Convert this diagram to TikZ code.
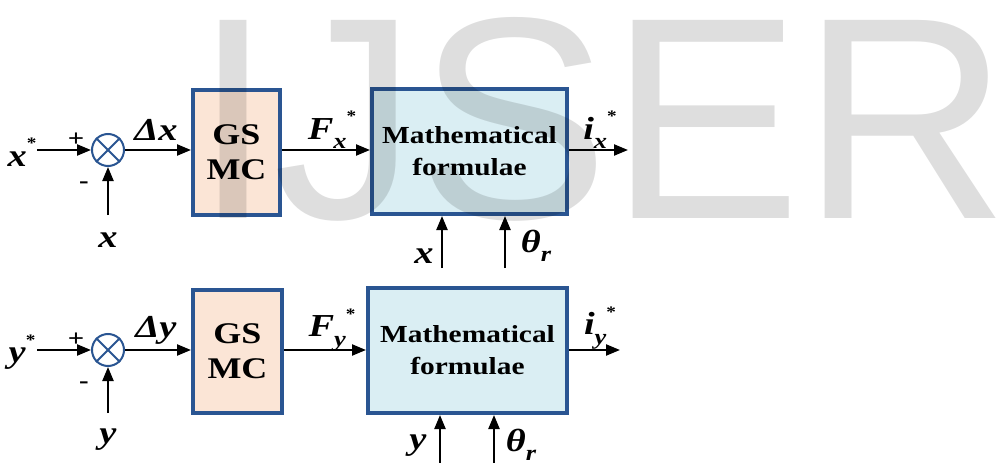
\documentclass[tikz,border=0pt]{standalone}
\usepackage{fontspec}
\setmainfont{Liberation Serif}[FakeStretch=1.2]
\newfontfamily\wmfont{Liberation Sans}
\usetikzlibrary{arrows.meta}
\definecolor{bord}{HTML}{2A5592}
\definecolor{peach}{HTML}{FBE5D6}
\definecolor{lblue}{HTML}{DAEEF3}
\newcommand\bi[1]{\textbf{\textit{#1}}}
\newcommand\sstar{\raisebox{0.55em}{\fontsize{16}{16}\selectfont\bfseries *}}
\newcommand\ssub[1]{\raisebox{-0.3em}{\fontsize{22}{22}\selectfont\bfseries\itshape #1}}
\begin{document}
\begin{tikzpicture}[x=1pt,y=-1pt,
  conn/.style={line width=2.2pt,-{Triangle[length=14pt,width=11pt]}},
  gsbox/.style={draw=bord,line width=4pt,fill=peach,minimum width=87pt,minimum height=125pt,
    align=center,font=\fontsize{30}{35}\selectfont\bfseries},
  mbox/.style={draw=bord,line width=4pt,fill=lblue,minimum width=195pt,minimum height=125pt,
    align=center,font=\fontsize{24.5}{32}\selectfont\bfseries},
  sumj/.style={circle,draw=bord,line width=2pt,minimum size=32pt,inner sep=0pt},
  lab/.style={font=\fontsize{32}{32}\selectfont,inner sep=0pt},
  sgn/.style={font=\fontsize{24}{24}\selectfont\bfseries,inner sep=0pt}]
\useasboundingbox (0,0) rectangle (997,463);
% ---------- top row ----------
\coordinate (inx) at (37,150);
\node[sumj] (s1) at (108,150) {};
\draw[bord,line width=2pt] (s1.north west) -- (s1.south east) (s1.north east) -- (s1.south west);
\node[gsbox] (gs1) at (236.5,152.5) {GS\\MC};
\node[mbox] (m1) at (469.5,151.5) {Mathematical\\formulae};
\coordinate (outx) at (628,150);
\coordinate (fbx) at (108,215);
\coordinate (ix1) at (442,268);
\coordinate (it1) at (505,268);
\draw[conn] (inx) -- (s1);
\draw[conn] (fbx) -- (s1);
\draw[conn] (s1) -- (gs1.west |- s1);
\draw[conn] (gs1.east |- s1) -- (m1.west |- s1);
\draw[conn] (m1.east |- outx) -- (outx);
\draw[conn] (ix1) -- (ix1 |- m1.south);
\draw[conn] (it1) -- (it1 |- m1.south);
\node[lab] (lxs) at (22,152) {\bi{x}\sstar};
\node[sgn] (p1) at (76,140) {+};
\node[sgn] (n1) at (84,185) {-};
\node[lab] (lx) at (108,240) {\bi{x}};
\node[lab] (ldx) at (156,130) {\bi{Δx}};
\node[lab] (lfx) at (332,130) {\bi{F}\ssub{x}\sstar};
\node[lab] (lix) at (600,130) {\bi{i}\ssub{x}\sstar};
\node[lab] (lx2) at (424,256) {\bi{x}};
\node[lab] (lt1) at (536,246) {\bi{θ}\ssub{r}};
% ---------- bottom row ----------
\coordinate (iny) at (37,350);
\node[sumj] (s2) at (108,350) {};
\draw[bord,line width=2pt] (s2.north west) -- (s2.south east) (s2.north east) -- (s2.south west);
\node[gsbox,minimum width=89pt,minimum height=123pt] (gs2) at (237.5,351.5) {GS\\MC};
\node[mbox,minimum width=199pt] (m2) at (467.5,350.5) {Mathematical\\formulae};
\coordinate (outy) at (620,350);
\coordinate (fby) at (108,413);
\coordinate (iy2) at (440,463);
\coordinate (it2) at (494,463);
\draw[conn] (iny) -- (s2);
\draw[conn] (fby) -- (s2);
\draw[conn] (s2) -- (gs2.west |- s2);
\draw[conn] (gs2.east |- s2) -- (m2.west |- s2);
\draw[conn] (m2.east |- outy) -- (outy);
\draw[conn] (iy2) -- (iy2 |- m2.south);
\draw[conn] (it2) -- (it2 |- m2.south);
\node[lab] (lys) at (22,352) {\bi{y}\sstar};
\node[sgn] (p2) at (76,340) {+};
\node[sgn] (n2) at (84,385) {-};
\node[lab] (ly) at (108,440) {\bi{y}};
\node[lab] (ldy) at (156,330) {\bi{Δy}};
\node[lab] (lfy) at (332,330) {\bi{F}\ssub{y}\sstar};
\node[lab] (liy) at (600,328) {\bi{i}\ssub{y}\sstar};
\node[lab] (ly2) at (418,446) {\bi{y}};
\node[lab] (lt2) at (521,445) {\bi{θ}\ssub{r}};
% ---------- watermark ----------
\node[anchor=base west,inner sep=0pt,text=black,text opacity=0.13,
  font=\fontsize{288}{288}\selectfont\wmfont] (wm) at (193,218) {IJSER};
\end{tikzpicture}
\end{document}
